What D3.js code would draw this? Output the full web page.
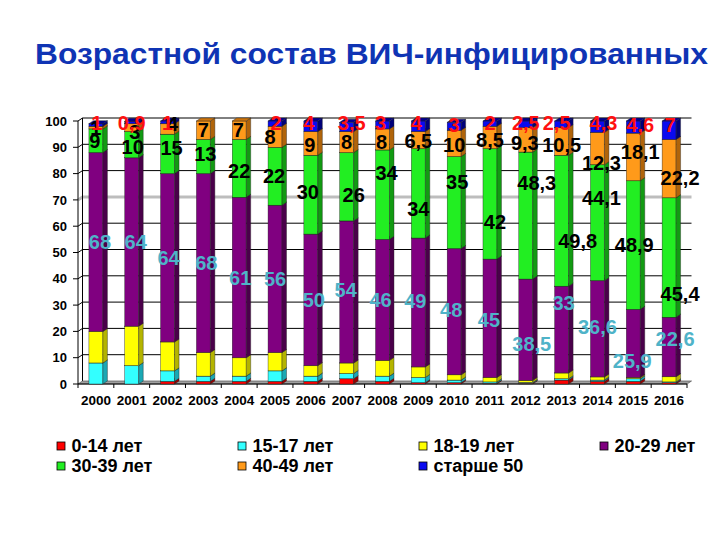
<!DOCTYPE html>
<html><head><meta charset="utf-8">
<script src="https://cdn.jsdelivr.net/npm/d3@7"></script>
<style>body{margin:0;background:#fff}svg{display:block}</style>
</head><body>
<svg id="c" width="720" height="540"></svg>
<script>
// ---------- DATA ----------
const years = ["2000","2001","2002","2003","2004","2005","2006","2007","2008","2009","2010","2011","2012","2013","2014","2015","2016"];
const seriesNames = ["0-14 лет","15-17 лет","18-19 лет","20-29 лет","30-39 лет","40-49 лет","старше 50"];
const age0_14  = [0, 0, 1, 1, 1, 1, 1, 2, 1, 0.5, 0.5, 0.3, 0.3, 1.5, 1, 1, 0.5];
const age15_17 = [8, 7, 4, 2, 2, 4, 2, 2, 2, 2, 1, 0.5, 0.3, 0.5, 0.5, 1, 0.3];
const age18_19 = [12, 15, 11, 9, 7, 7, 4, 4, 6, 4, 2, 1.7, 0.8, 2.2, 1.2, 0.5, 2];
const age20_29 = [68, 64, 64, 68, 61, 56, 50, 54, 46, 49, 48, 45, 38.5, 33, 36.6, 25.9, 22.6];
const age30_39 = [9, 10, 15, 13, 22, 22, 30, 26, 34, 34, 35, 42, 48.3, 49.8, 44.1, 48.9, 45.4];
const age40_49 = [1, 3, 4, 7, 7, 8, 9, 8, 8, 6.5, 10, 8.5, 9.3, 10.5, 12.3, 18.1, 22.2];
const age50p   = [1, 0.9, 1, 0, 0, 2, 4, 3.5, 3, 4, 3, 2, 2.5, 2.5, 4.3, 4.6, 7];
const yTicks = [0,10,20,30,40,50,60,70,80,90,100];
const titleText = "Возрастной состав ВИЧ-инфицированных";

// ---------- STYLE / LAYOUT ----------
const front = ["#FF0000","#33FFFF","#FFFF00","#800080","#22EE22","#FF9A1A","#0A0AF0"];
const side  = ["#990000","#1AA8B4","#B4B400","#4A004A","#129A12","#B0640A","#00007A"];
const font = "'Liberation Sans', Arial, sans-serif";
// label nudges (pixels) keyed by series index
const nudge = {
  3: {dx:[4,4,1,3,1,0,3,-1,-2,-3,-3,-1,6,2,0,-1,6],  dy:[0,0,0,0,0,0,0,-2,0,-2,-2,2,14,-27,-2,17,-8]},
  4: {dx:[-1,1,4,2,0,-1,-3,7,4,0,3,5,11,16,4,1,11], dy:[0,2,-6,-3,2,0,-3,8,-22,15,-21,18,-33,20,-25,0,36]},
  5: {dx:[0,3,5,0,-1,-5,-1,0,-1,0,0,0,-1,0,4,7,11], dy:[0,4,-5,0,0,0,1,0,2,1,1,2,3,3,14,-5,9]},
  6: {dx:[1,0,0,0,0,1,-2,5,-2,-2,0,0,0,-5,6,7,1],   dy:[0,0,0,0,0,0,0,0,0,0,2,0,0,0,0,2,2]}
};
const labelColor = {3:"#4FB3C8",4:"#000",5:"#000",6:"#FF1010"};

const cols = [age0_14, age15_17, age18_19, age20_29, age30_39, age40_49, age50p];
const table = years.map((yr,j)=>{const o={year:yr}; seriesNames.forEach((n,i)=>o[n]=cols[i][j]); return o;});
const stack = d3.stack().keys(seriesNames)(table);

const svg = d3.select("#c");
svg.append("rect").attr("width",720).attr("height",540).attr("fill","#fff");

const X0 = 78, X1 = 687, DX = 4.5, DY = 3;
const x = d3.scaleBand().domain(years).range([X0,X1]).paddingInner(0.61).paddingOuter(0.305);
const y = d3.scaleLinear().domain([0,100]).range([384,121]);

// title
svg.append("text").attr("x",371.5).attr("y",63.5).attr("text-anchor","middle")
  .attr("font-family",font).attr("font-weight","bold").attr("font-size",29)
  .attr("textLength",673).attr("lengthAdjust","spacingAndGlyphs")
  .attr("fill","#0F34B4").text(titleText);

// back wall grid
const g = svg.append("g");
yTicks.filter(t=>t>0).forEach(t=>{
  g.append("path").attr("d",`M${X0},${y(t)}L${X0+DX},${y(t)-DY}L${X1+DX},${y(t)-DY}`)
   .attr("fill","none").attr("stroke", t===70?"#BDBDBD":"#000").attr("stroke-width", t===70?3:1);
});
g.append("line").attr("x1",X0+DX).attr("x2",X0+DX).attr("y1",y(0)-DY).attr("y2",y(100)-DY).attr("stroke","#000");
// floor
g.append("path").attr("d",`M${X0},${y(0)}L${X1},${y(0)}L${X1+DX},${y(0)-DY}L${X0+DX},${y(0)-DY}Z`)
  .attr("fill","#A0A0A0").attr("stroke","#555").attr("stroke-width",0.7);
// front axis
g.append("line").attr("x1",X0).attr("x2",X0).attr("y1",y(0)).attr("y2",y(100)).attr("stroke","#000");
g.append("line").attr("x1",X0).attr("x2",X1).attr("y1",y(0)).attr("y2",y(0)).attr("stroke","#000");
yTicks.forEach(t=>{
  g.append("line").attr("x1",X0-5).attr("x2",X0).attr("y1",y(t)).attr("y2",y(t)).attr("stroke","#000");
  g.append("text").attr("x",X0-11).attr("y",y(t)).attr("dy","0.36em").attr("text-anchor","end")
   .attr("font-family",font).attr("font-weight","bold").attr("font-size",13).text(t);
});
const step = x.step();
years.forEach((yr,j)=>{
  const bx = x(yr)+x.bandwidth()/2 + step/2;
  g.append("line").attr("x1",bx).attr("x2",bx).attr("y1",y(0)).attr("y2",y(0)+4).attr("stroke","#000");
  if(j===0){const b0=x(yr)+x.bandwidth()/2-step/2; g.append("line").attr("x1",b0).attr("x2",b0).attr("y1",y(0)).attr("y2",y(0)+4).attr("stroke","#000");}
  g.append("text").attr("x",x(yr)+x.bandwidth()/2).attr("y",400).attr("dy","0.36em").attr("text-anchor","middle")
   .attr("font-family",font).attr("font-weight","bold").attr("font-size",13.5).text(yr);
});

// bars
const bars = svg.append("g");
const w = x.bandwidth();
years.forEach((yr,j)=>{
  stack.forEach((s,i)=>{
    const d = s[j]; if(d[1]-d[0] <= 0) return;
    const bx = x(yr), y0 = y(d[0]), y1 = y(d[1]);
    bars.append("rect").attr("x",bx).attr("y",y1).attr("width",w).attr("height",y0-y1)
      .attr("fill",front[i]).attr("stroke","#222").attr("stroke-width",0.4);
    bars.append("path").attr("d",`M${bx+w},${y0}L${bx+w+DX},${y0-DY}L${bx+w+DX},${y1-DY}L${bx+w},${y1}Z`)
      .attr("fill",side[i]).attr("stroke","#222").attr("stroke-width",0.4);
    bars.append("path").attr("d",`M${bx},${y1}L${bx+w},${y1}L${bx+w+DX},${y1-DY}L${bx+DX},${y1-DY}Z`)
      .attr("fill",d3.color(side[i]).brighter(0.4)).attr("stroke","#222").attr("stroke-width",0.4);
  });
});

// labels
const lab = svg.append("g").attr("font-family",font).attr("font-weight","bold").attr("font-size",20).attr("text-anchor","middle");
[3,4,5,6].forEach(i=>{
  years.forEach((yr,j)=>{
    const v = cols[i][j]; if(!(v>0)) return;
    const d = stack[i][j];
    const cx = x(yr)+w/2 + nudge[i].dx[j];
    const cy = (i===6 ? y(100)+2 : y((d[0]+d[1])/2)) + nudge[i].dy[j];
    lab.append("text").attr("x",cx).attr("y",cy).attr("dy","0.36em")
      .attr("fill",labelColor[i]).text(String(v).replace(".",","));
  });
});

// legend
const leg = svg.append("g").attr("font-family",font).attr("font-weight","bold").attr("font-size",18);
seriesNames.forEach((n,i)=>{
  const col = i%4, row = Math.floor(i/4);
  const lx = 57 + col*181, ly = 442 + row*20;
  leg.append("rect").attr("x",lx).attr("y",ly).attr("width",8).attr("height",8)
    .attr("fill",front[i]).attr("stroke","#000").attr("stroke-width",0.8);
  leg.append("text").attr("x",lx+14.5).attr("y",ly+4).attr("dy","0.36em").text(n);
});
</script>
</body></html>
